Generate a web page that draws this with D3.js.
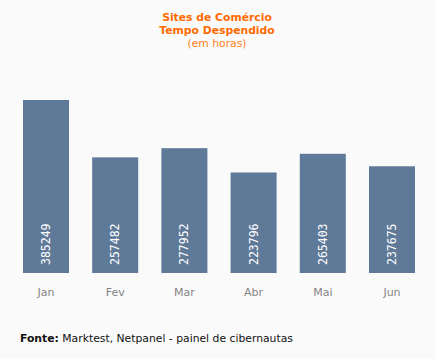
<!DOCTYPE html>
<html><head><meta charset="utf-8">
<script src="https://cdn.jsdelivr.net/npm/d3@7"></script>
<style>
html,body{margin:0;padding:0;background:#fafafa;}
svg{display:block;}
</style></head>
<body>
<script>
const categories = ["Jan","Fev","Mar","Abr","Mai","Jun"];
const values = [385249, 257482, 277952, 223796, 265403, 237675];
const titleLines = ["Sites de Comércio","Tempo Despendido"];
const subtitle = "(em horas)";
const sourceLabel = "Fonte:";
const sourceText = " Marktest, Netpanel - painel de cibernautas";

const W = 436, H = 359;
const svg = d3.select("body").append("svg").attr("width", W).attr("height", H);
svg.append("rect").attr("width", W).attr("height", H).attr("fill", "#fafafa");

const x = d3.scaleBand().domain(categories).range([23, 415]).paddingInner(0.335).paddingOuter(0);
const y = d3.scaleLinear().domain([0, d3.max(values)]).range([273, 100]);

const data = categories.map((c, i) => ({c, v: values[i]}));

svg.selectAll("rect.bar").data(data).enter().append("rect")
  .attr("class", "bar")
  .attr("x", d => x(d.c)).attr("width", x.bandwidth())
  .attr("y", d => y(d.v)).attr("height", d => y(0) - y(d.v))
  .attr("fill", "#5f7a98");

svg.selectAll("text.val").data(data).enter().append("text")
  .attr("class", "val")
  .attr("transform", d => `translate(${x(d.c) + x.bandwidth()/2 + 4},265) rotate(-90)`)
  .attr("font-family", "DejaVu Sans Mono")
  .attr("font-size", 11.5)
  .attr("fill", "#ffffff")
  .text(d => d.v);

const xAxis = svg.append("g").attr("transform", "translate(0,273)")
  .call(d3.axisBottom(x).tickSize(0).tickPadding(0));
xAxis.select(".domain").remove();
xAxis.selectAll("text")
  .attr("y", 23).attr("dy", 0)
  .attr("font-family", "DejaVu Sans")
  .attr("font-size", 11)
  .attr("fill", "#858585");

const tg = svg.append("g").attr("text-anchor", "middle").attr("fill", "#ff6a00")
  .attr("font-family", "DejaVu Sans");
titleLines.forEach((t, i) => {
  tg.append("text").attr("x", 217).attr("y", 21 + i * 13)
    .attr("font-size", 10.8).attr("font-weight", "bold").text(t);
});
tg.append("text").attr("x", 217).attr("y", 47).attr("font-size", 10.8)
  .attr("fill", "#ff7f1a").text(subtitle);

const src = svg.append("text").attr("x", 20).attr("y", 342)
  .attr("font-family", "DejaVu Sans").attr("font-size", 10.8).attr("fill", "#111");
src.append("tspan").attr("font-weight", "bold").text(sourceLabel);
src.append("tspan").text(sourceText);
</script>
</body></html>
